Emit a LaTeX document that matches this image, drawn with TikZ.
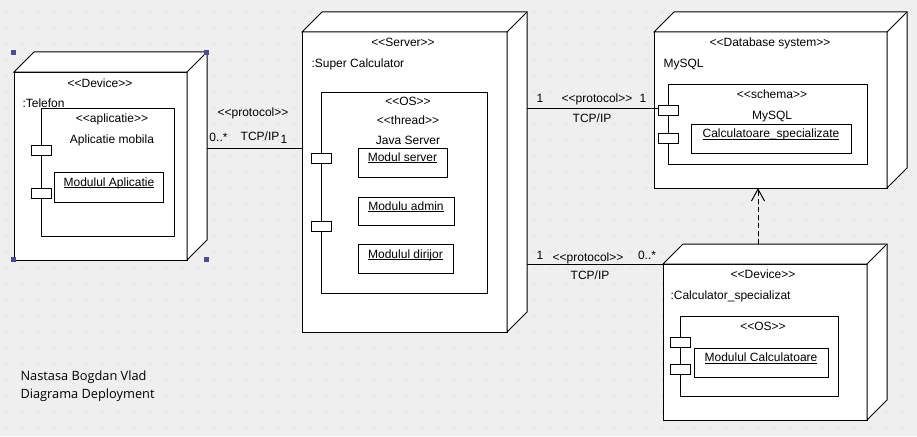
\documentclass[tikz,border=0pt]{standalone}
\usepackage{fontspec}
\setmainfont{Liberation Sans}[Ligatures=TeXOff]
\newfontfamily\notefont{Open Sans}
\usetikzlibrary{arrows.meta,shadows}
\definecolor{canvas}{HTML}{EFEFEF}
\definecolor{griddot}{HTML}{C4C4C4}
\definecolor{handle}{HTML}{4B4B9B}
\newcommand\ultext[1]{\setbox0\hbox{#1}\rlap{\rule[-1.8pt]{\wd0}{0.7pt}}\box0}
\newcommand\nodedepth[1]{%
  \draw[fill=white] (#1.north west) -- ++(20,-20) -- ([shift={(20,-20)}]#1.north east)
    -- ([shift={(20,-20)}]#1.south east) -- (#1.south east) -- (#1.north east) -- cycle;
  \draw (#1.north east) -- ++(20,-20);}
\tikzset{
  front/.style={draw, fill=white, anchor=north west, inner sep=0pt, outer sep=0pt},
  inbox/.style={front, drop shadow={shadow xshift=1pt, shadow yshift=-1pt, fill=black!45, opacity=1}},
  port/.style={front, minimum width=20pt, minimum height=10pt},
  lbl/.style={anchor=base, inner sep=0pt, font=\fontsize{12}{14}\selectfont},
  lbll/.style={lbl, anchor=base west},
  dep/.style={dash pattern=on 5pt off 3pt, -{Straight Barb[length=12pt,width=13pt]}}
}
\begin{document}
\begin{tikzpicture}[x=1pt, y=-1pt, line width=1pt]
    \fill[canvas] (0,0) rectangle (917,436);
    \useasboundingbox (0,0) rectangle (917,436);
    \foreach \i in {0,...,57}
      \foreach \j in {0,...,26}
        \fill[griddot] (5.5+16*\i,12+16*\j) rectangle ++(1.8,1.4);

    \node[front, minimum width=173pt, minimum height=188pt] (telefon) at (14,72) {};
    \nodedepth{telefon}
    \node[lbl] (teltype) at (100,87) {<<Device>>};
    \node[lbll] (telname) at (22,107) {:Telefon};
    \node[inbox, minimum width=133pt, minimum height=128pt] (aplic) at (41,108) {};
    \node[lbl] (aplictype) at (112,122) {<<aplicatie>>};
    \node[lbl] (aplicname) at (112,143) {Aplicatie mobila};
    \node[port] (telp1) at (31,145) {};
    \node[port] (telp2) at (31,188) {};
    \node[inbox, minimum width=109pt, minimum height=30pt] (modapl) at (54,172) {};
    \node[lbl] (modapltxt) at (109,186) {\ultext{Modulul Aplicatie}};
    \foreach \p [count=\k] in {(13.5,52.5),(206.5,52.5),(13.5,259.5),(206.5,259.5)}
      \node[fill=handle, minimum size=5pt, inner sep=0pt] (hnd\k) at \p {};

    \node[front, minimum width=205pt, minimum height=300pt] (server) at (302,32) {};
    \nodedepth{server}
    \node[lbl] (srvtype) at (403,47) {<<Server>>};
    \node[lbll] (srvname) at (311,67) {:Super Calculator};
    \node[inbox, minimum width=166pt, minimum height=201pt] (srvos) at (321,92) {};
    \node[lbl] (srvostype) at (408,105) {<<OS>>};
    \node[lbl] (thread) at (408,124) {<<thread>>};
    \node[lbl] (java) at (408,144) {Java Server};
    \node[port] (srvp1) at (311,153) {};
    \node[port] (srvp2) at (311,221) {};
    \node[inbox, minimum width=89pt, minimum height=29pt] (mserver) at (358,148) {};
    \node[lbl] (mservertxt) at (402.5,161) {\ultext{Modul server}};
    \node[inbox, minimum width=96pt, minimum height=28pt] (madmin) at (358,197) {};
    \node[lbl] (madmintxt) at (406,210) {\ultext{Modulu admin}};
    \node[inbox, minimum width=95pt, minimum height=29pt] (mdirijor) at (358,244) {};
    \node[lbl] (mdirijortxt) at (405.5,258) {\ultext{Modulul dirijor}};

    \node[front, minimum width=233pt, minimum height=156pt] (db) at (654,32) {};
    \nodedepth{db}
    \node[lbl] (dbtype) at (770,47) {<<Database system>>};
    \node[lbll] (dbname) at (663,67) {MySQL};
    \node[inbox, minimum width=199pt, minimum height=80pt] (schema) at (668,84) {};
    \node[lbl] (schematype) at (772,98) {<<schema>>};
    \node[lbl] (schemaname) at (772,119) {MySQL};
    \node[port] (dbp1) at (658,105) {};
    \node[port] (dbp2) at (658,133) {};
    \node[inbox, minimum width=160pt, minimum height=29pt] (mcalcs) at (691,124) {};
    \node[lbl] (mcalcstxt) at (771,137.5) {\ultext{Calculatoare\_specializate}};

    \node[front, minimum width=204pt, minimum height=156pt] (calc) at (663,264) {};
    \nodedepth{calc}
    \node[lbl] (calctype) at (763,278) {<<Device>>};
    \node[lbll] (calcname) at (670,299) {:Calculator\_specializat};
    \node[inbox, minimum width=158pt, minimum height=80pt] (calcos) at (680,316) {};
    \node[lbl] (calcostype) at (763,330) {<<OS>>};
    \node[port] (calcp1) at (670,337) {};
    \node[port] (calcp2) at (670,364) {};
    \node[inbox, minimum width=134pt, minimum height=29pt] (mcalc) at (694,348) {};
    \node[lbl] (mcalctxt) at (761,361.5) {\ultext{Modulul Calculatoare}};

    \coordinate (telR) at (207,148);
    \draw (telR) -- (telR -| server.west);
    \node[lbl] (proto1) at (253,116) {<<protocol>>};
    \node[lbl] (mult1a) at (218.5,141.5) {0..*};
    \node[lbl] (tcp1) at (260,140.5) {TCP/IP};
    \node[lbl] (mult1b) at (284,143) {1};

    \coordinate (srvA) at (527,108);
    \draw (srvA) -- (srvA -| dbp1.west);
    \node[lbl] (mult2a) at (540,102) {1};
    \node[lbl] (proto2) at (597,102) {<<protocol>>};
    \node[lbl] (mult2b) at (643,102) {1};
    \node[lbl] (tcp2) at (592,122.5) {TCP/IP};

    \coordinate (srvB) at (527,264);
    \draw (srvB) -- (calc.north west);
    \node[lbl] (mult3a) at (540,259) {1};
    \node[lbl] (proto3) at (588,261.5) {<<protocol>>};
    \node[lbl] (mult3b) at (647,259) {0..*};
    \node[lbl] (tcp3) at (590,279) {TCP/IP};

    \coordinate (deptail) at (758,244);
    \draw[dep] (deptail) -- (deptail |- db.south);

    \node[anchor=base west, inner sep=0pt, font=\notefont\fontsize{12.8}{15}\selectfont] (author) at (20,380.5) {Nastasa Bogdan Vlad};
    \node[anchor=base west, inner sep=0pt, font=\notefont\fontsize{12.8}{15}\selectfont] (title) at (20,398) {Diagrama Deployment};
\end{tikzpicture}
\end{document}
